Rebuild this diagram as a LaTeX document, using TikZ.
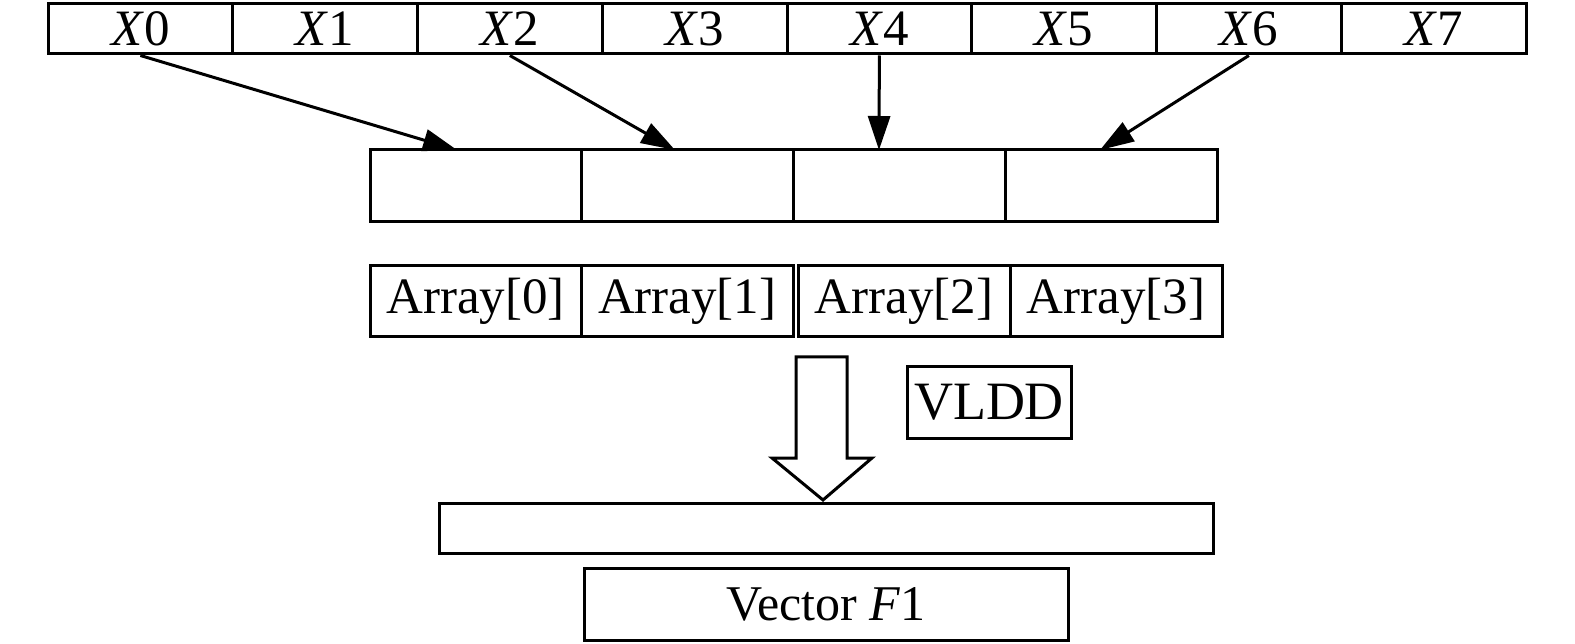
\documentclass[tikz,border=0pt]{standalone}
\usepackage{fontspec}
\setmainfont{Liberation Serif}
\usetikzlibrary{arrows.meta}
\begin{document}
\begin{tikzpicture}[x=1pt,y=-1pt,
  cell/.style={draw, line width=3pt, rectangle, inner sep=0pt, anchor=center},
  conn/.style={line width=3pt, -{Triangle[length=34pt,width=22pt]}},
  txt/.style={font=\fontsize{51}{60}\selectfont},
  bigtxt/.style={font=\fontsize{54}{64}\selectfont},
  vtxt/.style={font=\fontsize{50}{60}\selectfont},
  blockarrow/.style={draw, line width=3pt, line join=miter}]
\useasboundingbox (0,0) rectangle (1575,644);
% top row
\foreach \i in {0,...,7}{
  \node[cell, txt, minimum width=184.75pt, minimum height=50pt] (x\i) at ({48+(\i+0.5)*184.75},29) {\textit{X}\i};
}
% middle array
\foreach \i in {0,...,3}{
  \node[cell, minimum width=211.75pt, minimum height=72pt] (m\i) at ({370+(\i+0.5)*211.75},186) {};
}
% labels
\node[cell, txt, minimum width=211.5pt, minimum height=71pt] (a0) at (475.75,301.5) {Array[0]};
\node[cell, txt, minimum width=211.5pt, minimum height=71pt] (a1) at (687.25,301.5) {Array[1]};
\node[cell, txt, minimum width=212pt, minimum height=71pt] (a2) at (904,301.5) {Array[2]};
\node[cell, txt, minimum width=212pt, minimum height=71pt] (a3) at (1116,301.5) {Array[3]};
% VLDD
\node[cell, bigtxt, minimum width=164pt, minimum height=71pt] (vldd) at (989,402.5) {VLDD};
% bottom bar and label
\node[cell, minimum width=774pt, minimum height=50pt] (bar) at (826,528) {};
\node[cell, vtxt, minimum width=484pt, minimum height=72pt] (vec) at (826,604) {Vector \textit{F}1};
% arrow tips on middle array
\coordinate (t0) at (457,150);
\coordinate (t2) at (675,150);
\coordinate (t4) at (879,150);
\coordinate (t6) at (1100,150);
\draw[conn] (x0.south) -- (t0);
\draw[conn] (x2.south) -- (t2);
\draw[conn] (x4.south) -- (t4);
\draw[conn] (x6.south) -- (t6);
% block arrow
\draw[blockarrow] (796,357) -- (847,357) -- (847,458) -- (872,458) -- (823,500) -- (772,458) -- (796,458) -- cycle;
\end{tikzpicture}
\end{document}
